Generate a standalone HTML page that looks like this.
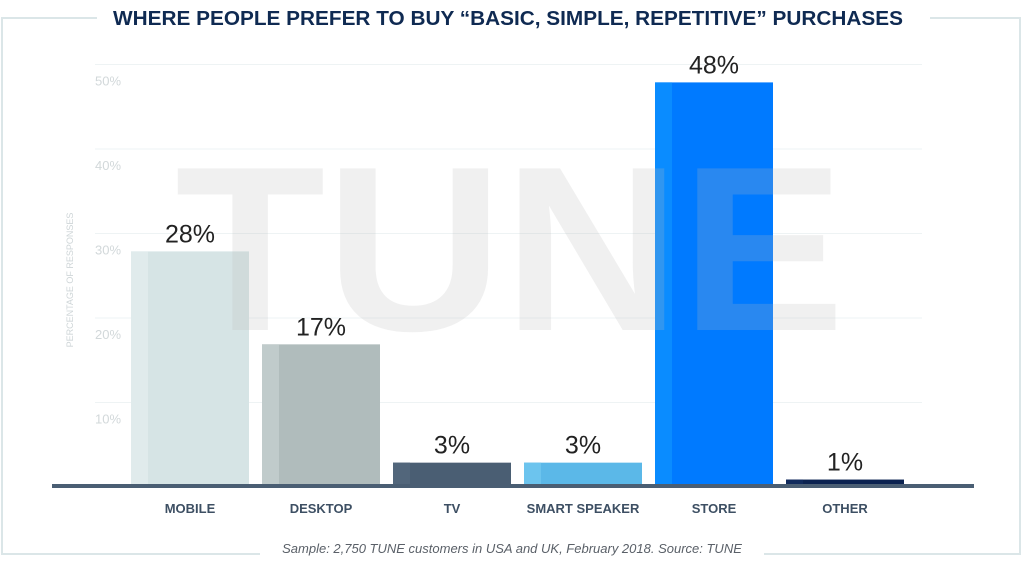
<!DOCTYPE html>
<html><head><meta charset="utf-8"><style>
body{margin:0;background:#fff;}
svg{display:block;font-family:"Liberation Sans",sans-serif;}
</style></head><body>
<svg width="1024" height="571" viewBox="0 0 1024 571">
<g stroke="#dbe6e8" stroke-width="2" fill="none">
<polyline points="97,18 2,18 2,554 260,554"/>
<polyline points="930,18 1020,18 1020,554 764,554"/>
</g>
<text x="508" y="25" text-anchor="middle" font-size="20.5" font-weight="bold" fill="#0f2a52" textLength="790" lengthAdjust="spacingAndGlyphs">WHERE PEOPLE PREFER TO BUY “BASIC, SIMPLE, REPETITIVE” PURCHASES</text>
<g id="grid"></g>
<g id="bars"></g>
<text x="175" y="330" font-size="235" font-weight="bold" textLength="670" lengthAdjust="spacingAndGlyphs" fill="rgba(185,185,185,0.22)">TUNE</text>
<g id="labels"></g>
<rect x="52" y="484" width="922" height="4" fill="#4a5e73"/>
<text transform="translate(73,280) rotate(-90)" text-anchor="middle" font-size="9" fill="#cfd6d8">PERCENTAGE OF RESPONSES</text>
<text x="512" y="553" text-anchor="middle" font-size="13" font-style="italic" fill="#5a6068">Sample: 2,750 TUNE customers in USA and UK, February 2018. Source: TUNE</text>
</svg>
<script>
const categories=["MOBILE","DESKTOP","TV","SMART SPEAKER","STORE","OTHER"];
const values=[28,17,3,3,48,1];
const valueLabels=["28%","17%","3%","3%","48%","1%"];
const ticks=[10,20,30,40,50];
const tickLabels=["10%","20%","30%","40%","50%"];
const colors=["#d6e4e5","#b0bcbc","#4a5e73","#5bb8e8","#007aff","#0b2250"];
const strips=["#e0ebec","#c0cbcb","#52667b","#6cc4ee","#0a8cff","#102a5c"];
const NS="http://www.w3.org/2000/svg";
const y0=488,pxPer=8.45,base=484;
function y(v){return y0-v*pxPer;}
function x(i){return 131+i*131;}
const bw=118;
function mk(tag,attrs,parent){const e=document.createElementNS(NS,tag);for(const k in attrs)e.setAttribute(k,attrs[k]);parent.appendChild(e);return e;}
const grid=document.getElementById('grid'),bars=document.getElementById('bars'),labels=document.getElementById('labels');
ticks.forEach((t,i)=>{
 const l=mk('line',{x1:95,x2:922,y1:y(t)-1,y2:y(t)-1,stroke:'#eef3f4','stroke-width':1},grid);
 
 
 const tx=mk('text',{x:95,y:y(t)+20,'font-size':13,fill:'#d2d8da'},grid);
 tx.textContent=tickLabels[i];
 
 
});
values.forEach((v,i)=>{
 const top=y(v),h=Math.max(0,base-top);
 const r=mk('rect',{x:x(i),y:top,width:bw,height:h,fill:colors[i]},bars);
 
 
 const s=mk('rect',{x:x(i),y:top,width:17,height:h,fill:strips[i]},bars);
 
 
 const t=mk('text',{x:x(i)+bw/2,y:top-9,'text-anchor':'middle','font-size':25,fill:'#222'},labels);
 t.textContent=valueLabels[i];
 
 
 const c=mk('text',{x:x(i)+bw/2,y:513,'text-anchor':'middle','font-size':13,'font-weight':'bold',fill:'#3d4f63'},labels);
 c.textContent=categories[i];
 
 
});
</script>
</body></html>
